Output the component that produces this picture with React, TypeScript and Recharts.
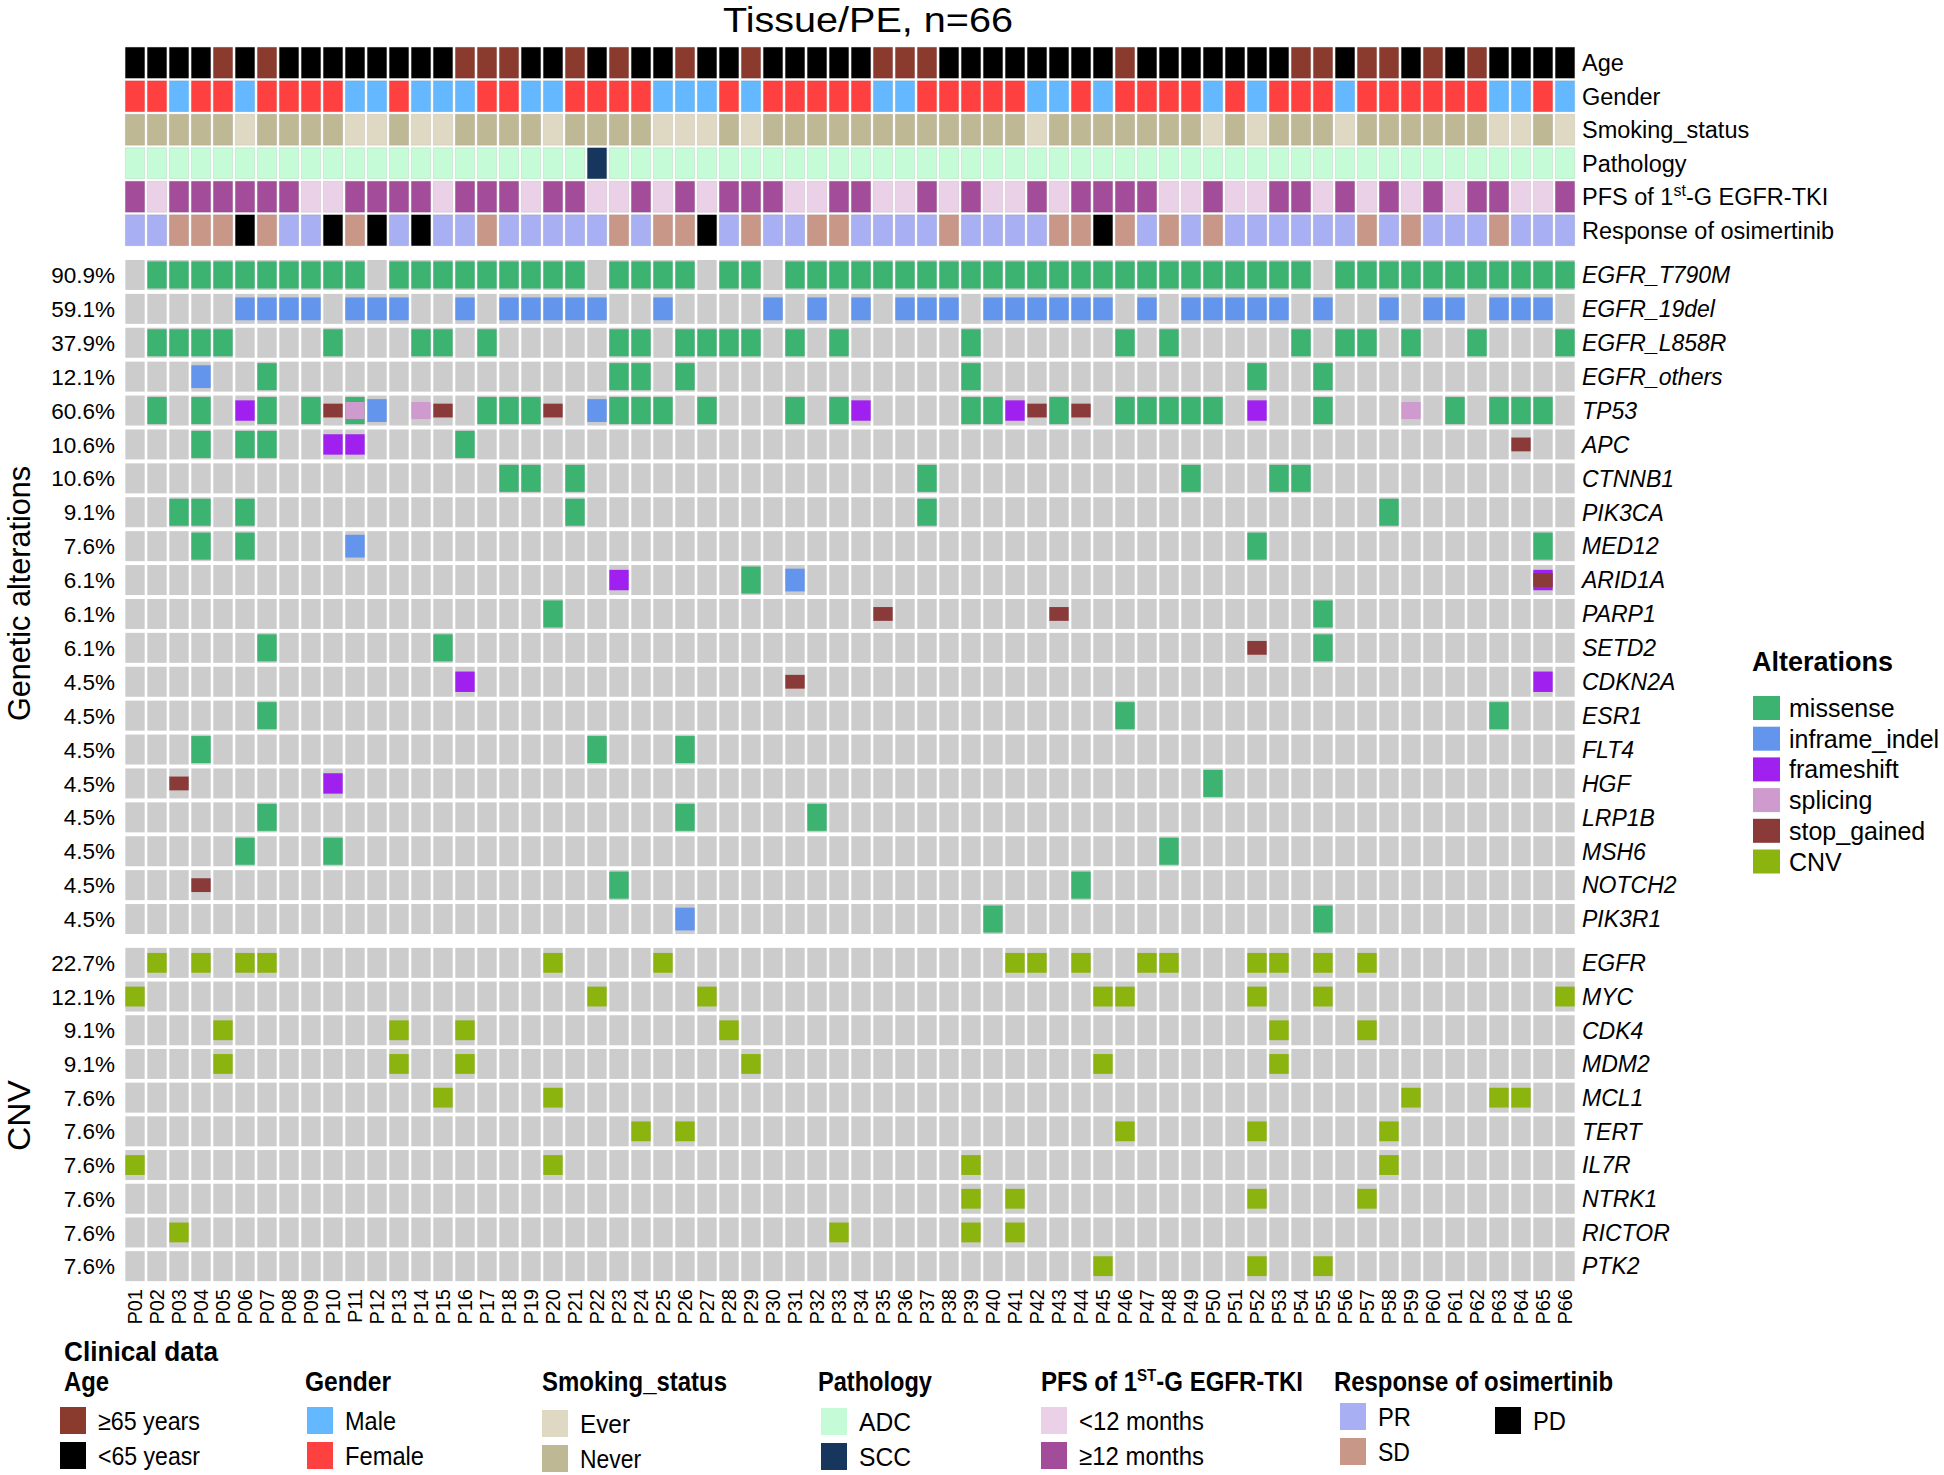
import React from 'react'
import { ScatterChart, Scatter, XAxis, YAxis } from 'recharts'

const SANS = "'Liberation Sans', Arial, Helvetica, sans-serif"

const PATIENTS = [
  'P01', 'P02', 'P03', 'P04', 'P05', 'P06', 'P07', 'P08', 'P09', 'P10',
  'P11', 'P12', 'P13', 'P14', 'P15', 'P16', 'P17', 'P18', 'P19', 'P20',
  'P21', 'P22', 'P23', 'P24', 'P25', 'P26', 'P27', 'P28', 'P29', 'P30',
  'P31', 'P32', 'P33', 'P34', 'P35', 'P36', 'P37', 'P38', 'P39', 'P40',
  'P41', 'P42', 'P43', 'P44', 'P45', 'P46', 'P47', 'P48', 'P49', 'P50',
  'P51', 'P52', 'P53', 'P54', 'P55', 'P56', 'P57', 'P58', 'P59', 'P60',
  'P61', 'P62', 'P63', 'P64', 'P65', 'P66',
]

// clinical annotation, one code per patient (P01..P66)
// O = >=65 years, Y = <65
const AGE = [
  'Y', 'Y', 'Y', 'Y', 'O', 'Y', 'O', 'Y', 'Y', 'Y',
  'Y', 'Y', 'Y', 'Y', 'Y', 'O', 'O', 'O', 'Y', 'Y',
  'O', 'Y', 'O', 'Y', 'Y', 'O', 'Y', 'Y', 'O', 'Y',
  'Y', 'Y', 'Y', 'Y', 'O', 'O', 'O', 'Y', 'Y', 'Y',
  'Y', 'Y', 'Y', 'Y', 'Y', 'O', 'Y', 'Y', 'Y', 'Y',
  'Y', 'Y', 'Y', 'O', 'O', 'Y', 'O', 'O', 'Y', 'O',
  'Y', 'O', 'Y', 'Y', 'Y', 'Y',
]
const GENDER = [
  'F', 'F', 'M', 'F', 'F', 'M', 'F', 'F', 'F', 'F',
  'M', 'M', 'F', 'M', 'M', 'M', 'F', 'F', 'M', 'M',
  'F', 'F', 'F', 'F', 'M', 'M', 'M', 'F', 'M', 'F',
  'F', 'F', 'F', 'F', 'M', 'M', 'F', 'F', 'F', 'F',
  'F', 'M', 'M', 'F', 'M', 'F', 'F', 'F', 'F', 'M',
  'F', 'M', 'F', 'F', 'F', 'M', 'F', 'F', 'F', 'F',
  'F', 'F', 'M', 'M', 'F', 'M',
]
// E = ever, N = never
const SMOKING = [
  'N', 'N', 'N', 'N', 'N', 'E', 'N', 'N', 'N', 'N',
  'E', 'E', 'N', 'E', 'E', 'N', 'N', 'N', 'N', 'E',
  'N', 'N', 'N', 'N', 'E', 'E', 'E', 'N', 'E', 'N',
  'N', 'N', 'N', 'N', 'N', 'N', 'N', 'N', 'N', 'N',
  'N', 'E', 'N', 'N', 'N', 'N', 'N', 'N', 'N', 'E',
  'N', 'E', 'N', 'N', 'N', 'E', 'N', 'N', 'N', 'N',
  'N', 'N', 'E', 'E', 'N', 'E',
]
const PATHOLOGY = [
  'ADC', 'ADC', 'ADC', 'ADC', 'ADC', 'ADC', 'ADC', 'ADC', 'ADC', 'ADC',
  'ADC', 'ADC', 'ADC', 'ADC', 'ADC', 'ADC', 'ADC', 'ADC', 'ADC', 'ADC',
  'ADC', 'SCC', 'ADC', 'ADC', 'ADC', 'ADC', 'ADC', 'ADC', 'ADC', 'ADC',
  'ADC', 'ADC', 'ADC', 'ADC', 'ADC', 'ADC', 'ADC', 'ADC', 'ADC', 'ADC',
  'ADC', 'ADC', 'ADC', 'ADC', 'ADC', 'ADC', 'ADC', 'ADC', 'ADC', 'ADC',
  'ADC', 'ADC', 'ADC', 'ADC', 'ADC', 'ADC', 'ADC', 'ADC', 'ADC', 'ADC',
  'ADC', 'ADC', 'ADC', 'ADC', 'ADC', 'ADC',
]
// H = >=12 months, L = <12 months
const PFS = [
  'H', 'L', 'H', 'H', 'H', 'H', 'H', 'H', 'L', 'L',
  'H', 'H', 'H', 'H', 'L', 'H', 'H', 'H', 'L', 'H',
  'H', 'L', 'L', 'H', 'L', 'H', 'L', 'H', 'H', 'H',
  'L', 'L', 'H', 'H', 'L', 'L', 'H', 'L', 'H', 'L',
  'L', 'H', 'L', 'H', 'H', 'H', 'H', 'L', 'L', 'H',
  'L', 'L', 'H', 'H', 'L', 'H', 'L', 'H', 'L', 'H',
  'L', 'H', 'H', 'L', 'L', 'H',
]
const RESPONSE = [
  'PR', 'PR', 'SD', 'SD', 'SD', 'PD', 'SD', 'PR', 'PR', 'PD',
  'SD', 'PD', 'PR', 'PD', 'PR', 'PR', 'SD', 'PR', 'PR', 'PR',
  'PR', 'PR', 'SD', 'PR', 'SD', 'SD', 'PD', 'PR', 'SD', 'PR',
  'PR', 'SD', 'SD', 'PR', 'PR', 'PR', 'PR', 'SD', 'PR', 'PR',
  'PR', 'PR', 'SD', 'SD', 'PD', 'SD', 'PR', 'SD', 'PR', 'SD',
  'PR', 'PR', 'PR', 'PR', 'PR', 'PR', 'SD', 'PR', 'SD', 'PR',
  'PR', 'PR', 'SD', 'PR', 'PR', 'PR',
]

const CLIN_LABELS = ['Age', 'Gender', 'Smoking_status', 'Pathology', 'PFS', 'Response of osimertinib']

const AGE_COLORS: Record<string, string> = { O: '#8b3a2e', Y: '#000000' }
const GENDER_COLORS: Record<string, string> = { M: '#63b8ff', F: '#ff4040' }
const SMOKING_COLORS: Record<string, string> = { E: '#dfd9c3', N: '#bfb894' }
const PATH_COLORS: Record<string, string> = { ADC: '#c6fbd8', SCC: '#17365d' }
const PFS_COLORS: Record<string, string> = { L: '#ead1e7', H: '#a24c9a' }
const RESP_COLORS: Record<string, string> = { PR: '#a8aff2', SD: '#c99787', PD: '#000000' }

// genetic alterations: patient numbers per alteration type
const EGFR_T790M = { missense: [2, 3, 4, 5, 6, 7, 8, 9, 10, 11, 13, 14, 15, 16, 17, 18, 19, 20, 21, 23, 24, 25, 26, 28, 29, 31, 32, 33, 34, 35, 36, 37, 38, 39, 40, 41, 42, 43, 44, 45, 46, 47, 48, 49, 50, 51, 52, 53, 54, 56, 57, 58, 59, 60, 61, 62, 63, 64, 65, 66] }
const EGFR_19del = { inframe_indel: [6, 7, 8, 9, 11, 12, 13, 16, 18, 19, 20, 21, 22, 25, 30, 32, 34, 36, 37, 38, 40, 41, 42, 43, 44, 45, 47, 49, 50, 51, 52, 53, 55, 58, 60, 61, 63, 64, 65] }
const EGFR_L858R = { missense: [2, 3, 4, 5, 10, 14, 15, 17, 23, 24, 26, 27, 28, 29, 31, 33, 39, 46, 48, 54, 56, 57, 59, 62, 66] }
const EGFR_others = { missense: [7, 23, 24, 26, 39, 52, 55], inframe_indel: [4] }
const TP53 = {
  missense: [2, 4, 7, 9, 11, 17, 18, 19, 23, 24, 25, 27, 31, 33, 39, 40, 43, 46, 47, 48, 49, 50, 55, 61, 63, 64, 65],
  inframe_indel: [12, 22],
  frameshift: [6, 34, 41, 52],
  splicing: [11, 14, 59],
  stop_gained: [10, 15, 20, 42, 44],
}
const APC = { missense: [4, 6, 7, 16], frameshift: [10, 11], stop_gained: [64] }
const CTNNB1 = { missense: [18, 19, 21, 37, 49, 53, 54] }
const PIK3CA = { missense: [3, 4, 6, 21, 37, 58] }
const MED12 = { missense: [4, 6, 52, 65], inframe_indel: [11] }
const ARID1A = { missense: [29], inframe_indel: [31], frameshift: [23, 65], stop_gained: [65] }
const PARP1 = { missense: [20, 55], stop_gained: [35, 43] }
const SETD2 = { missense: [7, 15, 55], stop_gained: [52] }
const CDKN2A = { frameshift: [16, 65], stop_gained: [31] }
const ESR1 = { missense: [7, 46, 63] }
const FLT4 = { missense: [4, 22, 26] }
const HGF = { missense: [50], frameshift: [10], stop_gained: [3] }
const LRP1B = { missense: [7, 26, 32] }
const MSH6 = { missense: [6, 10, 48] }
const NOTCH2 = { missense: [23, 44], stop_gained: [4] }
const PIK3R1 = { missense: [40, 55], inframe_indel: [26] }

const GENES = ['EGFR_T790M', 'EGFR_19del', 'EGFR_L858R', 'EGFR_others', 'TP53', 'APC', 'CTNNB1', 'PIK3CA', 'MED12', 'ARID1A',
  'PARP1', 'SETD2', 'CDKN2A', 'ESR1', 'FLT4', 'HGF', 'LRP1B', 'MSH6', 'NOTCH2', 'PIK3R1']
const GENE_PCT = ['90.9%', '59.1%', '37.9%', '12.1%', '60.6%', '10.6%', '10.6%', '9.1%', '7.6%', '6.1%',
  '6.1%', '6.1%', '4.5%', '4.5%', '4.5%', '4.5%', '4.5%', '4.5%', '4.5%', '4.5%']
const GENE_ALTS: Record<string, number[]>[] = [EGFR_T790M, EGFR_19del, EGFR_L858R, EGFR_others, TP53, APC, CTNNB1, PIK3CA, MED12, ARID1A,
  PARP1, SETD2, CDKN2A, ESR1, FLT4, HGF, LRP1B, MSH6, NOTCH2, PIK3R1]

const CNV_GENES = ['EGFR', 'MYC', 'CDK4', 'MDM2', 'MCL1', 'TERT', 'IL7R', 'NTRK1', 'RICTOR', 'PTK2']
const CNV_PCT = ['22.7%', '12.1%', '9.1%', '9.1%', '7.6%', '7.6%', '7.6%', '7.6%', '7.6%', '7.6%']
const CNV_HITS = [
  [2, 4, 6, 7, 20, 25, 41, 42, 44, 47, 48, 52, 53, 55, 57],
  [1, 22, 27, 45, 46, 52, 55, 66],
  [5, 13, 16, 28, 53, 57],
  [5, 13, 16, 29, 45, 53],
  [15, 20, 59, 63, 64],
  [24, 26, 46, 52, 58],
  [1, 20, 39, 58],
  [39, 41, 52, 57],
  [3, 33, 39, 41],
  [45, 52, 55],
]

// alteration styles: colour and height relative to the grey cell, drawn largest first
const ALT: Record<string, { color: string; h: number }> = {
  missense: { color: '#3cb371', h: 0.9 },
  inframe_indel: { color: '#6495ed', h: 0.76 },
  frameshift: { color: '#a020f0', h: 0.68 },
  CNV: { color: '#8bb40f', h: 0.66 },
  splicing: { color: '#cf9bcf', h: 0.57 },
  stop_gained: { color: '#8b3a3a', h: 0.46 },
}
const KINDS = ['missense', 'inframe_indel', 'frameshift', 'splicing', 'stop_gained']
const LEGEND_KINDS = ['missense', 'inframe_indel', 'frameshift', 'splicing', 'stop_gained', 'CNV']

const W = 1944
const PLOT_LEFT = 124
const RIGHT_AXIS = 368
const COL_W = (W - PLOT_LEFT - RIGHT_AXIS) / PATIENTS.length
const CELL_W = COL_W * 0.88
const X_TICKS = PATIENTS.map((_, i) => i + 1)

const CLIN_TRACKS = [
  { values: AGE, colors: AGE_COLORS },
  { values: GENDER, colors: GENDER_COLORS },
  { values: SMOKING, colors: SMOKING_COLORS },
  { values: PATHOLOGY, colors: PATH_COLORS },
  { values: PFS, colors: PFS_COLORS },
  { values: RESPONSE, colors: RESP_COLORS },
]

const clinData = CLIN_TRACKS.flatMap((t, r) => t.values.map((v, i) => ({ x: i + 1, y: r + 1, fill: t.colors[v] })))
const geneData = GENES.flatMap((g, r) => PATIENTS.map((p, i) => ({
  x: i + 1, y: r + 1, kinds: KINDS.filter(k => (GENE_ALTS[r][k] || []).includes(i + 1)),
})))
const cnvData = CNV_GENES.flatMap((g, r) => PATIENTS.map((p, i) => ({
  x: i + 1, y: r + 1, kinds: CNV_HITS[r].includes(i + 1) ? ['CNV'] : [],
})))

const ClinCell = (h: number) => (props: any) => {
  const { cx, cy, payload } = props
  return <rect x={cx - CELL_W / 2} y={cy - h / 2} width={CELL_W} height={h} fill={payload.fill} stroke="rgba(0,0,0,0.08)" strokeWidth={1} />
}

const GeneCell = (h: number) => (props: any) => {
  const { cx, cy, payload } = props
  const kinds = [...payload.kinds].sort((a: string, b: string) => ALT[b].h - ALT[a].h)
  return (
    <g>
      <rect x={cx - CELL_W / 2} y={cy - h / 2} width={CELL_W} height={h} fill="#cccccc" />
      {kinds.map((k: string) => {
        const hh = h * ALT[k].h
        return <rect key={k} x={cx - CELL_W / 2} y={cy - hh / 2} width={CELL_W} height={hh} fill={ALT[k].color} />
      })}
    </g>
  )
}

const ClinTick = (props: any) => {
  const { x, y, payload } = props
  const label = CLIN_LABELS[payload.value - 1]
  return (
    <text x={x} y={y} dy="0.36em" textAnchor="start" fontSize={23.5} fontFamily={SANS} fill="#000">
      {label === 'PFS' ? (
        <>
          <tspan>PFS of 1</tspan>
          <tspan fontSize={16} dy="-0.55em">st</tspan>
          <tspan dy="0.38em">-G EGFR-TKI</tspan>
        </>
      ) : label}
    </text>
  )
}

const RowTick = (names: string[], pcts: string[]) => (props: any) => {
  const { x, y, payload } = props
  const i = payload.value - 1
  return (
    <g>
      <text x={x} y={y} dy="0.36em" textAnchor="start" fontSize={23} fontStyle="italic" fontFamily={SANS} fill="#000">{names[i]}</text>
      <text x={PLOT_LEFT - 9} y={y} dy="0.36em" textAnchor="end" fontSize={22.5} fontFamily={SANS} fill="#000">{pcts[i]}</text>
    </g>
  )
}

const XTick = (props: any) => {
  const { x, y, payload } = props
  return (
    <text x={x} y={y} dy="0.36em" transform={`rotate(-90, ${x}, ${y})`} textAnchor="end" fontSize={20} fontFamily={SANS} fill="#000">
      {PATIENTS[payload.value - 1]}
    </text>
  )
}

const rowTicks = (n: number) => Array.from({ length: n }, (_, i) => i + 1)

const CLIN_H = 201
const GENE_H = 678
const CNV_H = 337
const X_AXIS_H = 50

// condensed legend text: regular face squeezed to the width seen in the figure
const Cond = ({ x, y, w, size, bold, children }: { x: number; y: number; w: number; size: number; bold?: boolean; children: React.ReactNode }) => (
  <text x={x} y={y} fontSize={size} fontWeight={bold ? 'bold' : 'normal'} fontFamily={SANS} fill="#000"
    textLength={w} lengthAdjust="spacingAndGlyphs">{children}</text>
)

const Swatch = ({ x, y, color, label, w }: { x: number; y: number; color: string; label: string; w: number }) => (
  <g>
    <rect x={x} y={y} width={26} height={27} fill={color} />
    <Cond x={x + 38} y={y + 23} w={w} size={26}>{label}</Cond>
  </g>
)

const R1 = 1407
const R2 = 1442

export default function App() {
  return (
    <div style={{ position: 'absolute', left: 0, top: 0, width: W, height: 1475, background: '#fff', overflow: 'hidden' }}>
      <div style={{ position: 'absolute', left: 0, top: 46 }}>
        <ScatterChart width={W} height={CLIN_H} margin={{ top: 0, right: 0, bottom: 0, left: PLOT_LEFT }}>
          <XAxis type="number" dataKey="x" domain={[0.5, 66.5]} hide />
          <YAxis type="number" dataKey="y" orientation="right" width={RIGHT_AXIS} domain={[0.5, 6.5]} reversed
            ticks={rowTicks(6)} interval={0} axisLine={false} tickLine={false} tickSize={0} tickMargin={6} tick={ClinTick} />
          <Scatter data={clinData} isAnimationActive={false} shape={ClinCell(31)} />
        </ScatterChart>
      </div>
      <div style={{ position: 'absolute', left: 0, top: 258 }}>
        <ScatterChart width={W} height={GENE_H} margin={{ top: 0, right: 0, bottom: 0, left: PLOT_LEFT }}>
          <XAxis type="number" dataKey="x" domain={[0.5, 66.5]} hide />
          <YAxis type="number" dataKey="y" orientation="right" width={RIGHT_AXIS} domain={[0.5, 20.5]} reversed
            ticks={rowTicks(20)} interval={0} axisLine={false} tickLine={false} tickSize={0} tickMargin={6} tick={RowTick(GENES, GENE_PCT)} />
          <Scatter data={geneData} isAnimationActive={false} shape={GeneCell(30)} />
        </ScatterChart>
      </div>
      <div style={{ position: 'absolute', left: 0, top: 946 }}>
        <ScatterChart width={W} height={CNV_H + X_AXIS_H} margin={{ top: 0, right: 0, bottom: 0, left: PLOT_LEFT }}>
          <XAxis type="number" dataKey="x" domain={[0.5, 66.5]} ticks={X_TICKS} interval={0} height={X_AXIS_H}
            axisLine={false} tickLine={false} tickSize={0} tickMargin={6} tick={XTick} />
          <YAxis type="number" dataKey="y" orientation="right" width={RIGHT_AXIS} domain={[0.5, 10.5]} reversed
            ticks={rowTicks(10)} interval={0} axisLine={false} tickLine={false} tickSize={0} tickMargin={6} tick={RowTick(CNV_GENES, CNV_PCT)} />
          <Scatter data={cnvData} isAnimationActive={false} shape={GeneCell(30)} />
        </ScatterChart>
      </div>

      <svg width={W} height={1475} style={{ position: 'absolute', left: 0, top: 0, pointerEvents: 'none' }}>
        <text x={868} y={32} textAnchor="middle" fontSize={35} fontFamily={SANS} fill="#000"
          textLength={290} lengthAdjust="spacingAndGlyphs">Tissue/PE, n=66</text>

        <g transform="rotate(-90, 30, 594)">
          <Cond x={30 - 127} y={594} w={255} size={32}>Genetic alterations</Cond>
        </g>
        <g transform="rotate(-90, 30, 1116)">
          <Cond x={30 - 35} y={1116} w={71} size={32}>CNV</Cond>
        </g>

        {/* alterations legend */}
        <text x={1752} y={671} fontSize={27} fontWeight="bold" fontFamily={SANS} fill="#000">Alterations</text>
        {LEGEND_KINDS.map((k, i) => (
          <g key={k}>
            <rect x={1753} y={696 + i * 30.7} width={27} height={24} fill={ALT[k].color} />
            <text x={1789} y={708 + i * 30.7} dy="0.36em" fontSize={25} fontFamily={SANS} fill="#000">{k}</text>
          </g>
        ))}

        {/* clinical data legend */}
        <Cond x={64} y={1361} w={154} size={28} bold>Clinical data</Cond>
        <Cond x={64} y={1391} w={45} size={27} bold>Age</Cond>
        <Cond x={305} y={1391} w={86} size={27} bold>Gender</Cond>
        <Cond x={542} y={1391} w={185} size={27} bold>Smoking_status</Cond>
        <Cond x={818} y={1391} w={114} size={27} bold>Pathology</Cond>
        <Cond x={1041} y={1391} w={262} size={27} bold>
          PFS of 1<tspan fontSize={17} dy="-0.6em">ST</tspan><tspan dy="0.38em">-G EGFR-TKI</tspan>
        </Cond>
        <Cond x={1334} y={1391} w={279} size={27} bold>Response of osimertinib</Cond>

        <Swatch x={60} y={R1} color={AGE_COLORS.O} label="≥65 years" w={102} />
        <Swatch x={60} y={R2} color={AGE_COLORS.Y} label="<65 yeasr" w={102} />
        <Swatch x={307} y={R1} color={GENDER_COLORS.M} label="Male" w={51} />
        <Swatch x={307} y={R2} color={GENDER_COLORS.F} label="Female" w={79} />
        <Swatch x={542} y={R1 + 3} color={SMOKING_COLORS.E} label="Ever" w={50} />
        <Swatch x={542} y={R2 + 3} color={SMOKING_COLORS.N} label="Never" w={61} />
        <Swatch x={821} y={R1 + 1} color={PATH_COLORS.ADC} label="ADC" w={52} />
        <Swatch x={821} y={R2 + 1} color={PATH_COLORS.SCC} label="SCC" w={52} />
        <Swatch x={1041} y={R1} color={PFS_COLORS.L} label="<12 months" w={125} />
        <Swatch x={1041} y={R2} color={PFS_COLORS.H} label="≥12 months" w={125} />
        <Swatch x={1340} y={R1 - 4} color={RESP_COLORS.PR} label="PR" w={33} />
        <Swatch x={1340} y={R2 - 4} color={RESP_COLORS.SD} label="SD" w={32} />
        <Swatch x={1495} y={R1} color={RESP_COLORS.PD} label="PD" w={33} />
      </svg>
    </div>
  )
}
